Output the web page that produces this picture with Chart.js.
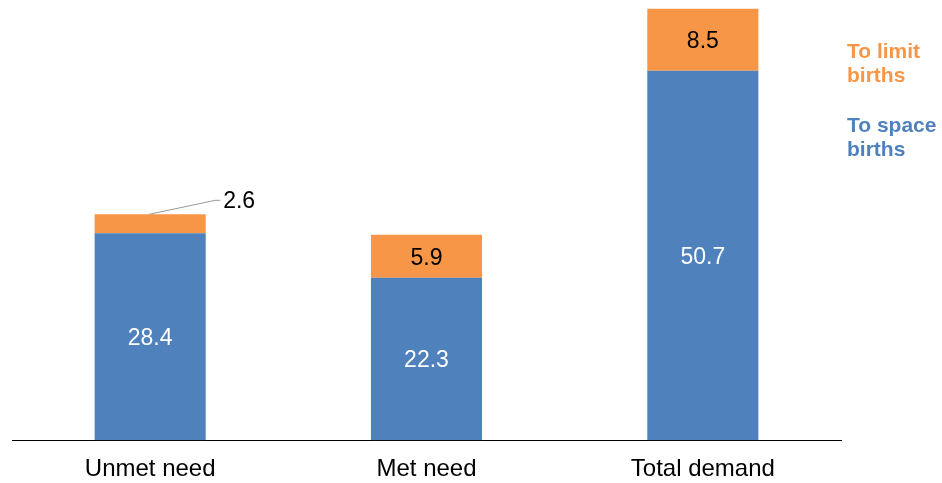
<!DOCTYPE html>
<html>
<head>
<meta charset="utf-8">
<script src="https://cdn.jsdelivr.net/npm/chart.js@4/dist/chart.umd.min.js"></script>
<style>
  html, body { margin: 0; padding: 0; background: #fff; }
  #wrap { width: 942px; height: 483px; }
</style>
</head>
<body>
<div id="wrap"><canvas id="chart"></canvas></div>
<script>
const categories = ['Unmet need', 'Met need', 'Total demand'];
const toSpace = [28.4, 22.3, 50.7];
const toLimit = [2.6, 5.9, 8.5];
const seriesNames = ['To space births', 'To limit births'];

const blue = '#4F81BD';
const orange = '#F79646';
const fontFamily = '"Liberation Sans", Arial, sans-serif';

// value labels inside the segments, small ones go outside with a leader line
const valueLabels = {
    id: 'valueLabels',
    afterDatasetsDraw(chart) {
        const ctx = chart.ctx;
        ctx.save();
        ctx.font = '23px ' + fontFamily;
        ctx.textAlign = 'center';
        ctx.textBaseline = 'middle';
        chart.data.datasets.forEach((ds, di) => {
            const meta = chart.getDatasetMeta(di);
            meta.data.forEach((bar, i) => {
                const v = ds.data[i];
                const h = bar.base - bar.y;
                if (h < 30) {
                    ctx.strokeStyle = '#999';
                    ctx.lineWidth = 1;
                    ctx.beginPath();
                    ctx.moveTo(bar.x - 1, bar.y);
                    ctx.lineTo(bar.x + 65, bar.y - 14);
                    ctx.lineTo(bar.x + 70, bar.y - 14);
                    ctx.stroke();
                    ctx.fillStyle = '#000';
                    ctx.textAlign = 'left';
                    ctx.fillText(v.toFixed(1), bar.x + 73, bar.y - 13);
                    ctx.textAlign = 'center';
                } else {
                    ctx.fillStyle = di === 0 ? '#fff' : '#000';
                    ctx.fillText(v.toFixed(1), bar.x, (bar.y + bar.base) / 2 + 2);
                }
            });
        });
        ctx.restore();
    }
};

// legend as coloured text on the right
const sideLegend = {
    id: 'sideLegend',
    afterDraw(chart) {
        const ctx = chart.ctx;
        ctx.save();
        ctx.font = 'bold 21px ' + fontFamily;
        ctx.textAlign = 'left';
        ctx.textBaseline = 'middle';
        const x = chart.chartArea.right + 6;
        const items = [
            { text: seriesNames[1], color: orange, y: 52 },
            { text: seriesNames[0], color: blue, y: 126 }
        ];
        items.forEach(it => {
            const words = it.text.split(' ');
            const line1 = words.slice(0, 2).join(' ');
            const line2 = words.slice(2).join(' ');
            ctx.fillStyle = it.color;
            ctx.fillText(line1, x, it.y);
            ctx.fillText(line2, x, it.y + 24);
        });
        ctx.restore();
    }
};

new Chart(document.getElementById('chart'), {
    type: 'bar',
    data: {
        labels: categories,
        datasets: [
            { label: seriesNames[0], data: toSpace, backgroundColor: blue },
            { label: seriesNames[1], data: toLimit, backgroundColor: orange }
        ]
    },
    options: {
        responsive: true,
        maintainAspectRatio: false,
        animation: false,
        layout: { padding: { left: 12, right: 101, top: 3, bottom: -16 } },
        datasets: {
            bar: { categoryPercentage: 1, barPercentage: 0.402 }
        },
        plugins: {
            legend: { display: false },
            tooltip: { enabled: false }
        },
        scales: {
            x: {
                stacked: true,
                grid: { display: false, drawTicks: false },
                border: { display: true, color: '#000', width: 1 },
                ticks: {
                    color: '#000',
                    padding: 15,
                    font: { family: fontFamily, size: 24 }
                }
            },
            y: {
                stacked: true,
                display: false,
                min: 0,
                max: 60
            }
        }
    },
    plugins: [valueLabels, sideLegend]
});
</script>
</body>
</html>
